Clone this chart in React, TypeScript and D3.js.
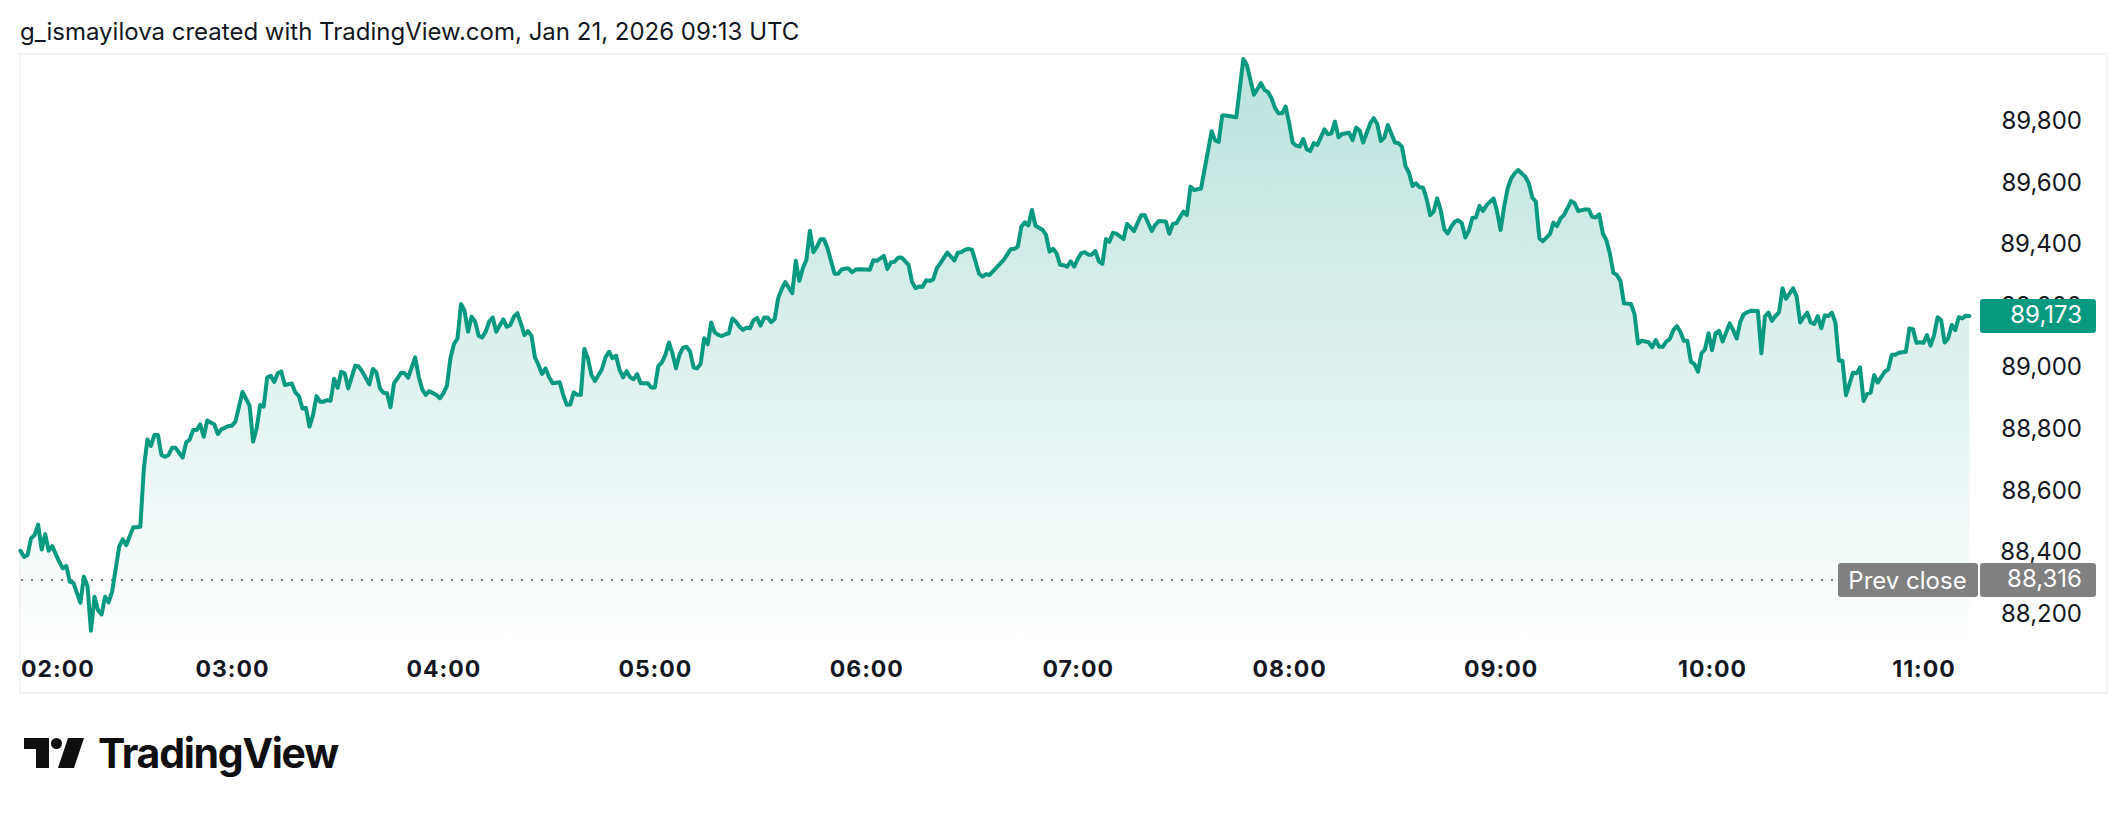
import { useEffect, useRef } from 'react';
import * as d3 from 'd3';

const WIDTH = 2128;
const HEIGHT = 814;

const titleText = 'g_ismayilova created with TradingView.com, Jan 21, 2026 09:13 UTC';
const prevClose = 88316;
const lastPrice = 89173;

const priceTicks = [88200, 88400, 88600, 88800, 89000, 89200, 89400, 89600, 89800];
const hourTicks = [0, 60, 120, 180, 240, 300, 360, 420, 480, 540];
const hourLabels = ['02:00', '03:00', '04:00', '05:00', '06:00', '07:00', '08:00', '09:00', '10:00', '11:00'];

// minutes since 02:00 at each visible turn of the line
const minutes = [
  0, 1, 2, 3, 4, 5, 6, 7, 8, 9, 11, 12, 13, 14, 15, 17, 18, 19, 20, 21, 22, 23, 24, 25, 26, 28, 29, 30, 32, 33,
  34, 35, 36, 37, 38, 39, 40, 41, 42, 43, 44, 46, 47, 48, 49, 50, 51, 52, 53, 55, 56, 57, 59,
  60, 61, 63, 65, 66, 67, 68, 69, 70, 71, 72, 73, 74, 75, 77, 78, 79, 80, 81, 82, 83, 84, 85, 86, 87, 88, 89, 90,
  91, 92, 93, 95, 96, 97, 99, 100, 101, 102, 103, 104, 105, 106, 107, 108, 109, 110, 112, 113, 114, 115, 116, 118, 119,
  120, 121, 122, 123, 124, 125, 126, 127, 128, 129, 130, 131, 132, 133, 134, 135, 136, 137, 138, 139, 140, 141, 142, 143, 144, 145,
  146, 147, 148, 149, 150, 151, 153, 154, 155, 156, 157, 158, 159, 160, 161, 162, 163, 165, 166, 167, 168, 169, 170, 171, 172, 173, 174, 175, 176, 178, 179,
  180, 181, 182, 183, 184, 185, 186, 187, 188, 189, 190, 191, 192, 193, 194, 195, 196, 197, 198, 199, 200, 201, 202, 203, 204, 205, 206, 207, 208, 209, 210,
  211, 212, 213, 214, 215, 216, 217, 219, 220, 221, 222, 223, 224, 225, 226, 227, 228, 229, 231, 232, 233, 234, 235, 236, 237, 238,
  241, 242, 243, 245, 246, 247, 248, 249, 250, 252, 253, 254, 255, 256, 257, 258, 259, 260, 261, 263, 265, 266, 267, 268, 269, 270, 271, 272,
  273, 274, 275, 276, 279, 281, 282, 283, 284, 285, 286, 287, 288, 290, 291, 292, 293, 294, 295, 296, 297, 298, 299,
  300, 301, 302, 303, 304, 305, 306, 307, 308, 309, 310, 311, 313, 314, 316, 317, 318, 319, 321, 322, 323, 325, 326, 327, 328, 330, 331, 332, 333, 335, 338, 339,
  340, 341, 342, 345, 347, 348, 350, 352, 353, 354, 355, 356, 357, 358, 359,
  360, 361, 362, 363, 364, 365, 366, 367, 368, 370, 371, 372, 373, 374, 375, 377, 378, 379, 380, 381, 383, 384, 385, 386, 387, 388, 390, 391, 392, 393, 394, 395, 396, 397, 398, 399,
  400, 401, 402, 403, 404, 405, 406, 407, 408, 409, 410, 411, 412, 413, 414, 415, 416, 418, 419,
  420, 421, 422, 423, 424, 425, 427, 428, 429, 430, 431, 432, 434, 435, 436, 437, 438, 440, 441, 442, 444, 445, 446, 447, 448, 449, 450, 451, 452, 453, 454, 455, 457, 458, 459,
  460, 462, 463, 464, 465, 466, 467, 468, 469, 470, 471, 472, 473, 474, 475, 476, 477, 478, 479,
  480, 481, 482, 483, 485, 486, 487, 488, 489, 490, 491, 493, 494, 495, 496, 497, 498, 499,
  500, 501, 503, 504, 505, 506, 507, 508, 509, 510, 511, 512, 513, 514, 515, 516, 517, 518, 520, 521, 522, 523, 524, 525, 526, 527, 529,
  530, 531, 532, 533, 535, 536, 537, 538, 539, 540, 541, 542, 543, 544, 545, 546, 547, 548, 549, 550, 551, 552, 553,
];

const prices = [
  88411, 88391, 88397, 88451, 88462, 88496, 88415, 88465, 88411, 88426, 88375, 88354, 88362, 88310, 88307, 88242, 88327, 88297, 88151, 88262, 88218, 88204, 88262, 88243, 88278, 88424, 88448, 88429, 88487, 88487,
  88489, 88678, 88772, 88751, 88787, 88787, 88722, 88716, 88722, 88745, 88745, 88713, 88762, 88772, 88803, 88803, 88821, 88781, 88834, 88821, 88790, 88805, 88816,
  88817, 88830, 88927, 88882, 88765, 88808, 88884, 88879, 88973, 88979, 88959, 88987, 88993, 88949, 88954, 88925, 88913, 88873, 88875, 88814, 88851, 88913, 88895, 88895, 88900, 88898, 88969, 88940,
  88992, 88987, 88938, 89012, 89009, 88992, 88951, 89001, 88990, 88938, 88924, 88922, 88877, 88955, 88971, 88989, 88987, 88973, 89039, 88976, 88935, 88917, 88929, 88917, 88906,
  88922, 88946, 89036, 89082, 89100, 89212, 89190, 89122, 89171, 89155, 89109, 89103, 89122, 89155, 89168, 89122, 89142, 89162, 89138, 89144, 89171, 89182, 89149, 89111, 89124, 89109,
  89038, 89014, 88985, 89003, 88974, 88955, 88958, 88917, 88885, 88886, 88925, 88917, 88917, 89066, 89036, 88982, 88962, 89000, 89039, 89057, 89036, 89044, 88998, 88974, 88994, 88974, 88968, 88984, 88955, 88955, 88941,
  88941, 89011, 89022, 89047, 89087, 89052, 89003, 89047, 89070, 89073, 89058, 89006, 89003, 89018, 89101, 89081, 89152, 89120, 89112, 89108, 89113, 89117, 89165, 89155, 89139, 89128, 89135, 89133, 89159, 89167, 89142,
  89167, 89168, 89153, 89163, 89231, 89260, 89283, 89247, 89352, 89287, 89328, 89355, 89450, 89380, 89398, 89422, 89422, 89393, 89310, 89310, 89324, 89327, 89327, 89315, 89324, 89325,
  89323, 89354, 89352, 89368, 89326, 89347, 89349, 89362, 89363, 89339, 89283, 89263, 89269, 89268, 89289, 89287, 89292, 89328, 89344, 89379, 89353, 89379, 89380, 89388, 89391, 89388, 89350, 89310,
  89301, 89309, 89306, 89319, 89355, 89390, 89391, 89398, 89463, 89477, 89467, 89517, 89466, 89453, 89436, 89382, 89391, 89377, 89339, 89338, 89333, 89350, 89333,
  89358, 89377, 89380, 89372, 89372, 89384, 89350, 89342, 89423, 89414, 89443, 89440, 89423, 89472, 89449, 89476, 89500, 89501, 89449, 89469, 89481, 89480, 89440, 89472, 89474, 89512, 89501, 89593, 89582, 89587, 89773, 89743,
  89738, 89824, 89824, 89818, 90007, 89988, 89891, 89929, 89907, 89900, 89880, 89848, 89831, 89831, 89853,
  89799, 89736, 89726, 89723, 89747, 89714, 89709, 89734, 89728, 89779, 89763, 89766, 89804, 89753, 89764, 89768, 89744, 89785, 89775, 89736, 89798, 89815, 89796, 89741, 89752, 89793, 89736, 89734, 89723, 89660, 89638, 89595, 89604, 89591, 89590, 89553,
  89501, 89512, 89555, 89517, 89455, 89441, 89463, 89479, 89484, 89474, 89428, 89450, 89492, 89493, 89530, 89514, 89533, 89555, 89512,
  89452, 89528, 89587, 89620, 89636, 89647, 89625, 89604, 89558, 89544, 89425, 89416, 89439, 89476, 89465, 89490, 89501, 89546, 89539, 89514, 89519, 89519, 89495, 89493, 89503, 89441, 89420, 89376, 89313, 89306, 89287, 89214, 89212, 89179, 89084,
  89093, 89088, 89071, 89095, 89073, 89073, 89090, 89098, 89127, 89140, 89122, 89093, 89093, 89025, 89017, 88992, 89052, 89065, 89117,
  89062, 89117, 89125, 89090, 89149, 89127, 89100, 89154, 89179, 89185, 89190, 89189, 89052, 89171, 89184, 89157, 89173, 89185,
  89263, 89229, 89263, 89236, 89152, 89169, 89184, 89152, 89147, 89173, 89133, 89175, 89173, 89184, 89152, 89028, 89028, 88916, 88989, 88987, 89006, 88897, 88920, 88924, 88981, 88957, 88992,
  89000, 89047, 89047, 89054, 89057, 89133, 89130, 89086, 89088, 89086, 89111, 89077, 89111, 89169, 89160, 89087, 89100, 89144, 89127, 89169, 89165, 89174, 89173,
];

const GREEN = '#089981';
const GREY = '#808080';
const INK = '#131722';
const FONT = 'Inter, sans-serif';

export default function App() {
  const svgRef = useRef<SVGSVGElement>(null);

  useEffect(() => {
    if (!svgRef.current) return;

    const svg = d3.select(svgRef.current);
    svg.selectAll('*').remove();

    const plotLeft = 20;
    const plotBottom = 645;
    const series = minutes.map((m, i) => ({ m, p: prices[i] }));

    const x = d3.scaleLinear().domain([0, 540]).range([20.5, 1923.5]);
    const y = d3.scaleLinear().domain([prevClose, lastPrice]).range([580, 316]);

    // gradient under the line
    const gradient = svg
      .append('defs')
      .append('linearGradient')
      .attr('id', 'area-fill')
      .attr('gradientUnits', 'userSpaceOnUse')
      .attr('x1', 0)
      .attr('y1', 60)
      .attr('x2', 0)
      .attr('y2', plotBottom);
    gradient.append('stop').attr('offset', '0%').attr('stop-color', GREEN).attr('stop-opacity', 0.28);
    gradient.append('stop').attr('offset', '100%').attr('stop-color', GREEN).attr('stop-opacity', 0);

    // title
    svg
      .append('text')
      .attr('x', plotLeft)
      .attr('y', 40)
      .style('font-family', FONT)
      .style('font-size', '24px')
      .style('fill', INK)
      .text(titleText);

    // frame
    svg
      .append('rect')
      .attr('x', 20)
      .attr('y', 54)
      .attr('width', 2087)
      .attr('height', 639)
      .attr('fill', 'none')
      .attr('stroke', '#f3f3f3')
      .attr('stroke-width', 2);

    const area = d3
      .area<{ m: number; p: number }>()
      .x((d) => x(d.m))
      .y0(plotBottom)
      .y1((d) => y(d.p));

    const line = d3
      .line<{ m: number; p: number }>()
      .x((d) => x(d.m))
      .y((d) => y(d.p));

    svg.append('path').datum(series).attr('d', area).attr('fill', 'url(#area-fill)');

    // previous close
    svg
      .append('line')
      .attr('x1', plotLeft + 1)
      .attr('x2', 1833)
      .attr('y1', y(prevClose))
      .attr('y2', y(prevClose))
      .attr('stroke', GREY)
      .attr('stroke-width', 2)
      .attr('stroke-dasharray', '2 8');

    svg
      .append('path')
      .datum(series)
      .attr('d', line)
      .attr('fill', 'none')
      .attr('stroke', GREEN)
      .attr('stroke-width', 4)
      .attr('stroke-linejoin', 'round')
      .attr('stroke-linecap', 'round');

    // price axis
    const yAxis = svg
      .append('g')
      .attr('transform', 'translate(2082,-2)')
      .call(d3.axisLeft(y).tickValues(priceTicks).tickFormat(d3.format(',') as never).tickSize(0).tickPadding(0));
    yAxis.select('.domain').remove();
    yAxis
      .selectAll('text')
      .style('font-family', FONT)
      .style('font-size', '24px')
      .style('fill', INK);

    // time axis
    const xAxis = svg
      .append('g')
      .attr('transform', 'translate(0,661)')
      .call(
        d3
          .axisBottom(x)
          .tickValues(hourTicks)
          .tickFormat((_, i) => hourLabels[i])
          .tickSize(0)
          .tickPadding(0)
      );
    xAxis.select('.domain').remove();
    xAxis
      .selectAll('text')
      .style('font-family', FONT)
      .style('font-size', '23px')
      .style('font-weight', '700')
      .style('letter-spacing', '1px')
      .style('fill', INK);
    xAxis.select('.tick text').attr('text-anchor', 'start');

    // last price tag
    const tag = svg.append('g');
    tag
      .append('rect')
      .attr('x', 1980)
      .attr('y', y(lastPrice) - 17)
      .attr('width', 116)
      .attr('height', 34)
      .attr('rx', 3)
      .attr('fill', GREEN);
    tag
      .append('text')
      .attr('x', 2082)
      .attr('y', y(lastPrice) - 1)
      .attr('dy', '0.35em')
      .attr('text-anchor', 'end')
      .style('font-family', FONT)
      .style('font-size', '24px')
      .style('fill', '#ffffff')
      .text(d3.format(',')(lastPrice));

    // prev close tags
    const prev = svg.append('g');
    prev
      .append('rect')
      .attr('x', 1838)
      .attr('y', y(prevClose) - 17)
      .attr('width', 140)
      .attr('height', 34)
      .attr('rx', 3)
      .attr('fill', GREY);
    prev
      .append('rect')
      .attr('x', 1980)
      .attr('y', y(prevClose) - 17)
      .attr('width', 116)
      .attr('height', 34)
      .attr('rx', 3)
      .attr('fill', GREY);
    prev
      .append('text')
      .attr('x', 1907.5)
      .attr('y', y(prevClose) + 1)
      .attr('dy', '0.35em')
      .attr('text-anchor', 'middle')
      .style('font-family', FONT)
      .style('font-size', '24px')
      .style('fill', '#ffffff')
      .text('Prev close');
    prev
      .append('text')
      .attr('x', 2082)
      .attr('y', y(prevClose) - 1)
      .attr('dy', '0.35em')
      .attr('text-anchor', 'end')
      .style('font-family', FONT)
      .style('font-size', '24px')
      .style('fill', '#ffffff')
      .text(d3.format(',')(prevClose));

    // logo
    const logo = svg.append('g').attr('fill', '#0f0f0f');
    logo.append('path').attr('d', 'M24 738H49V768H36V749H24Z');
    logo.append('circle').attr('cx', 56.5).attr('cy', 743.5).attr('r', 5.5);
    logo.append('path').attr('d', 'M68 738H84L74 768H58Z');
    logo
      .append('text')
      .attr('x', 98)
      .attr('y', 768)
      .attr('textLength', 241)
      .style('font-family', FONT)
      .style('font-size', '41px')
      .style('font-weight', '700')
      .text('TradingView');
  }, []);

  return (
    <svg
      ref={svgRef}
      width={WIDTH}
      height={HEIGHT}
      style={{ position: 'absolute', left: 0, top: 0, background: '#ffffff' }}
    ></svg>
  );
}
